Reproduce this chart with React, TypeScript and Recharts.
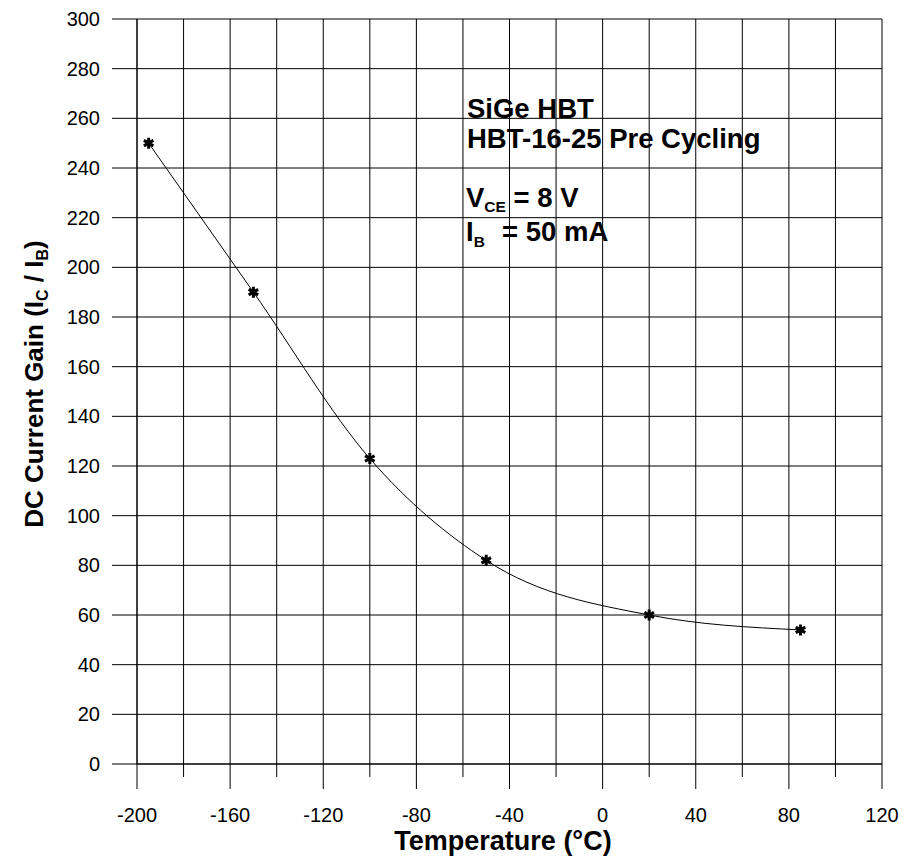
import React from "react";
import {
  LineChart, Line, XAxis, YAxis, CartesianGrid, Customized,
} from "recharts";

// measured gain vs temperature
const temperatures = [-195, -150, -100, -50, 20, 85];
const gains = [250, 190, 123, 82, 60, 54];

const xTicks = [-200, -180, -160, -140, -120, -100, -80, -60, -40, -20, 0, 20, 40, 60, 80, 100, 120];
const yTicks = [0, 20, 40, 60, 80, 100, 120, 140, 160, 180, 200, 220, 240, 260, 280, 300];

const data = temperatures.map((t, i) => ({ temp: t, gain: gains[i] }));

const FONT = '"Liberation Sans", Arial, Helvetica, sans-serif';

function XTick(props: any) {
  const { x, y, payload } = props;
  const major = payload.value % 40 === 0;
  return (
    <g>
      <line x1={x} x2={x} y1={y} y2={y + (major ? 25 : 13)} stroke="#000" strokeWidth={1} />
      {major && (
        <text x={x} y={y + 58} textAnchor="middle" fontSize={20} fontFamily={FONT} fill="#000">
          {payload.value}
        </text>
      )}
    </g>
  );
}

function Asterisk(props: any) {
  const { cx, cy } = props;
  if (cx == null || cy == null) return null;
  const r = 5.5;
  const arms = [90, 30, 150].map((a) => {
    const rad = (a * Math.PI) / 180;
    const dx = r * Math.cos(rad);
    const dy = r * Math.sin(rad);
    return `M${cx - dx},${cy - dy}L${cx + dx},${cy + dy}`;
  });
  return <path d={arms.join("")} stroke="#000" strokeWidth={3} fill="none" />;
}

function Annotations() {
  const bold = { fontFamily: FONT, fontWeight: 700, fill: "#000" } as const;
  return (
    <g>
      <text x={467} y={118} fontSize={27.5} {...bold}>SiGe HBT</text>
      <text x={467} y={148} fontSize={27.5} {...bold}>HBT-16-25 Pre Cycling</text>
      <text x={466} y={207} fontSize={27.5} {...bold}>
        V<tspan fontSize={15.5} dy={5}>CE</tspan>
        <tspan dy={-5}> = 8 V</tspan>
      </text>
      <text x={466} y={241} fontSize={27.5} {...bold}>
        I<tspan fontSize={15.5} dy={6}>B</tspan>
        <tspan x={502} dy={-6}>= 50 mA</tspan>
      </text>

      {/* axis titles */}
      <text x={503} y={850} fontSize={27} textAnchor="middle" {...bold}>
        Temperature (°C)
      </text>
      <text
        x={43}
        y={384}
        fontSize={26}
        textAnchor="middle"
        transform="rotate(-90, 43, 384)"
        {...bold}
      >
        DC Current Gain (I<tspan fontSize={16} dy={5}>C</tspan>
        <tspan dy={-5}> / I</tspan>
        <tspan fontSize={16} dy={5}>B</tspan>
        <tspan dy={-5}>)</tspan>
      </text>
    </g>
  );
}

export default function App() {
  return (
    <div style={{ position: "absolute", left: 0, top: 0, background: "#fff" }}>
      <LineChart
        width={904}
        height={856}
        data={data}
        margin={{ top: 19, right: 22, left: 0, bottom: 0 }}
      >
        <CartesianGrid stroke="#000" strokeWidth={1} />
        <XAxis
          dataKey="temp"
          type="number"
          domain={[-200, 120]}
          ticks={xTicks}
          interval={0}
          height={92}
          tickSize={0}
          tickMargin={0}
          tickLine={false}
          axisLine={{ stroke: "#000" }}
          tick={<XTick />}
        />
        <YAxis
          type="number"
          domain={[0, 300]}
          ticks={yTicks}
          interval={0}
          width={137}
          tickSize={25}
          tickMargin={12}
          tickLine={{ stroke: "#000" }}
          axisLine={{ stroke: "#000" }}
          tick={{ fontSize: 20, fill: "#000", fontFamily: FONT }}
        />
        <Line
          type="monotone"
          dataKey="gain"
          stroke="#000"
          strokeWidth={1}
          dot={<Asterisk />}
          activeDot={false}
          isAnimationActive={false}
        />
        <Customized component={Annotations} />
      </LineChart>
    </div>
  );
}
